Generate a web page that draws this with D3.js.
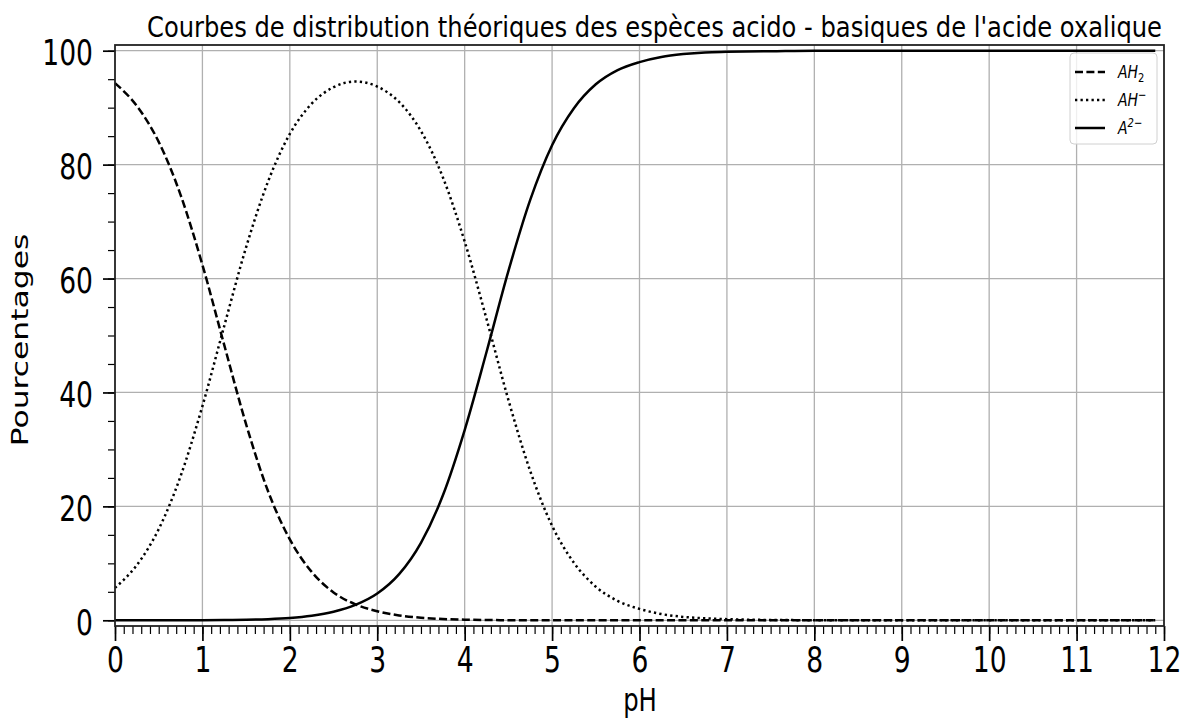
<!DOCTYPE html>
<html>
<head>
<meta charset="utf-8">
<script src="https://cdn.jsdelivr.net/npm/d3@7"></script>
<style>
  body { margin: 0; background: #fff; }
  text { font-family: "DejaVu Sans", sans-serif; fill: #000; }
</style>
</head>
<body>
<svg id="chart"></svg>
<script>
var ph = [0, 0.25, 0.5, 0.75, 1, 1.25, 1.5, 1.75, 2, 2.25, 2.5, 2.75, 3, 3.25, 3.5, 3.75,
          4, 4.25, 4.5, 4.75, 5, 5.25, 5.5, 5.75, 6, 6.25, 6.5, 6.75, 7, 7.5, 8, 9, 10, 11, 11.9];
// percentages of each species
var ah2 = [94.3, 90.3, 84.0, 74.7, 62.4, 48.3, 34.4, 22.7, 14.2, 8.5, 4.9, 2.8, 1.6, 0.85, 0.45, 0.23,
           0.11, 0.05, 0.02, 0.01, 0, 0, 0, 0, 0, 0, 0, 0, 0, 0, 0, 0, 0, 0, 0];
var ahMinus = [5.7, 9.7, 16.0, 25.3, 37.6, 51.7, 65.5, 77.0, 85.4, 90.7, 93.6, 94.6, 93.7, 91.0, 85.9, 77.8,
               66.5, 52.9, 38.7, 26.2, 16.6, 10.1, 5.9, 3.4, 2.0, 1.1, 0.6, 0.35, 0.2, 0.06, 0.02, 0, 0, 0, 0];
var a2Minus = [0, 0, 0, 0, 0.02, 0.05, 0.1, 0.2, 0.4, 0.8, 1.5, 2.7, 4.7, 8.1, 13.6, 21.9,
               33.4, 47.1, 61.3, 73.8, 83.4, 89.9, 94.1, 96.6, 98.0, 98.9, 99.4, 99.7, 99.8, 99.9, 100, 100, 100, 100, 100];
var xTicks = d3.range(0, 13, 1);
var yTicks = [0, 20, 40, 60, 80, 100];

var W = 1188, H = 720;
var plotLeft = 115, plotRight = 1164, plotTop = 45, plotBottom = 626;
var sx = 0.76; // horizontal squeeze of the text

var svg = d3.select("#chart").attr("width", W).attr("height", H);

var x = d3.scaleLinear().domain([0, 12]).range([plotLeft, plotRight]);
var y = d3.scaleLinear().domain([-1, 101]).range([plotBottom, plotTop]);

// grid
svg.append("g").selectAll("line").data(xTicks.slice(1, -1)).enter().append("line")
  .attr("x1", function(d) { return x(d) }).attr("x2", function(d) { return x(d) })
  .attr("y1", plotTop).attr("y2", plotBottom)
  .attr("stroke", "#b0b0b0").attr("stroke-width", 1.3);
svg.append("g").selectAll("line").data(yTicks).enter().append("line")
  .attr("x1", plotLeft).attr("x2", plotRight)
  .attr("y1", function(d) { return y(d) }).attr("y2", function(d) { return y(d) })
  .attr("stroke", "#b0b0b0").attr("stroke-width", 1.3);

// curves
var line = d3.line().curve(d3.curveMonotoneX);
function drawCurve(vals, dash) {
  var pts = ph.map(function(p, i) { return [x(p), y(vals[i])] });
  svg.append("path").attr("d", line(pts))
    .attr("fill", "none").attr("stroke", "#000").attr("stroke-width", 2.5)
    .attr("stroke-dasharray", dash);
}
drawCurve(ah2, "8,3.4");
drawCurve(ahMinus, "2.3,3.2");
drawCurve(a2Minus, null);

// minor ticks
svg.append("g").attr("transform", "translate(0," + plotBottom + ")")
  .call(d3.axisBottom(x).tickValues(d3.range(0, 121).map(function(i) { return i / 10 })).tickSize(8).tickFormat(""))
  .call(function(g) { g.select(".domain").remove(); g.selectAll("line").attr("stroke-width", 1.2) });
svg.append("g").attr("transform", "translate(" + plotLeft + ",0)")
  .call(d3.axisLeft(y).tickValues(d3.range(0, 101, 5)).tickSize(7).tickFormat(""))
  .call(function(g) { g.select(".domain").remove(); g.selectAll("line").attr("stroke-width", 1.2) });

// major ticks + labels
var xAxis = svg.append("g").attr("transform", "translate(0," + plotBottom + ")")
  .call(d3.axisBottom(x).tickValues(xTicks).tickSize(15).tickPadding(6).tickFormat(d3.format("d")));
xAxis.select(".domain").remove();
xAxis.selectAll("line").attr("stroke-width", 1.7);
xAxis.selectAll("text").attr("font-size", 35).attr("font-family", "DejaVu Sans")
  .attr("transform", "scale(" + sx + ",1)");

var yAxis = svg.append("g").attr("transform", "translate(" + plotLeft + ",0)")
  .call(d3.axisLeft(y).tickValues(yTicks).tickSize(12).tickFormat(d3.format("d")));
yAxis.select(".domain").remove();
yAxis.selectAll("line").attr("stroke-width", 1.7);
yAxis.selectAll("text").attr("font-size", 35).attr("font-family", "DejaVu Sans")
  .attr("x", -22 / sx).attr("dy", "0.4em")
  .attr("transform", "scale(" + sx + ",1)");

// frame
svg.append("rect").attr("x", plotLeft).attr("y", plotTop)
  .attr("width", plotRight - plotLeft).attr("height", plotBottom - plotTop)
  .attr("fill", "none").attr("stroke", "#222").attr("stroke-width", 1.8);

// title + axis labels
svg.append("text").attr("x", 147).attr("y", 37)
  .attr("font-size", 29).attr("textLength", 1015).attr("lengthAdjust", "spacingAndGlyphs")
  .text("Courbes de distribution théoriques des espèces acido - basiques de l'acide oxalique");

svg.append("text").attr("transform", "translate(640,711) scale(" + sx + ",1)")
  .attr("text-anchor", "middle").attr("font-size", 32).text("pH");

svg.append("text").attr("transform", "translate(28,340) scale(" + sx + ",1) rotate(-90)")
  .attr("text-anchor", "middle").attr("font-size", 31.4).text("Pourcentages");

// legend
var legend = svg.append("g");
legend.append("rect").attr("x", 1070).attr("y", 53).attr("width", 87).attr("height", 91)
  .attr("rx", 4).attr("fill", "#fff").attr("fill-opacity", 0.8)
  .attr("stroke", "#d0d0d0").attr("stroke-width", 1);

var legendRows = [
  { base: "AH", script: "2", sub: true, dash: "8,3.4", y: 72 },
  { base: "AH", script: "\u2212", sub: false, dash: "2.3,3.2", y: 100 },
  { base: "A", script: "2\u2212", sub: false, dash: null, y: 128 }
];
legendRows.forEach(function(r) {
  legend.append("line").attr("x1", 1075).attr("x2", 1105).attr("y1", r.y).attr("y2", r.y)
    .attr("stroke", "#000").attr("stroke-width", 2.5).attr("stroke-dasharray", r.dash);
  var t = legend.append("text")
    .attr("transform", "translate(1118," + (r.y + 6) + ") scale(0.8,1)")
    .attr("font-size", 17.5).attr("font-style", "italic");
  t.append("tspan").text(r.base);
  t.append("tspan").attr("font-size", 12.5).attr("font-style", r.sub ? "normal" : "italic")
    .attr("dy", r.sub ? 3.5 : -7).text(r.script);
});
</script>
</body>
</html>
